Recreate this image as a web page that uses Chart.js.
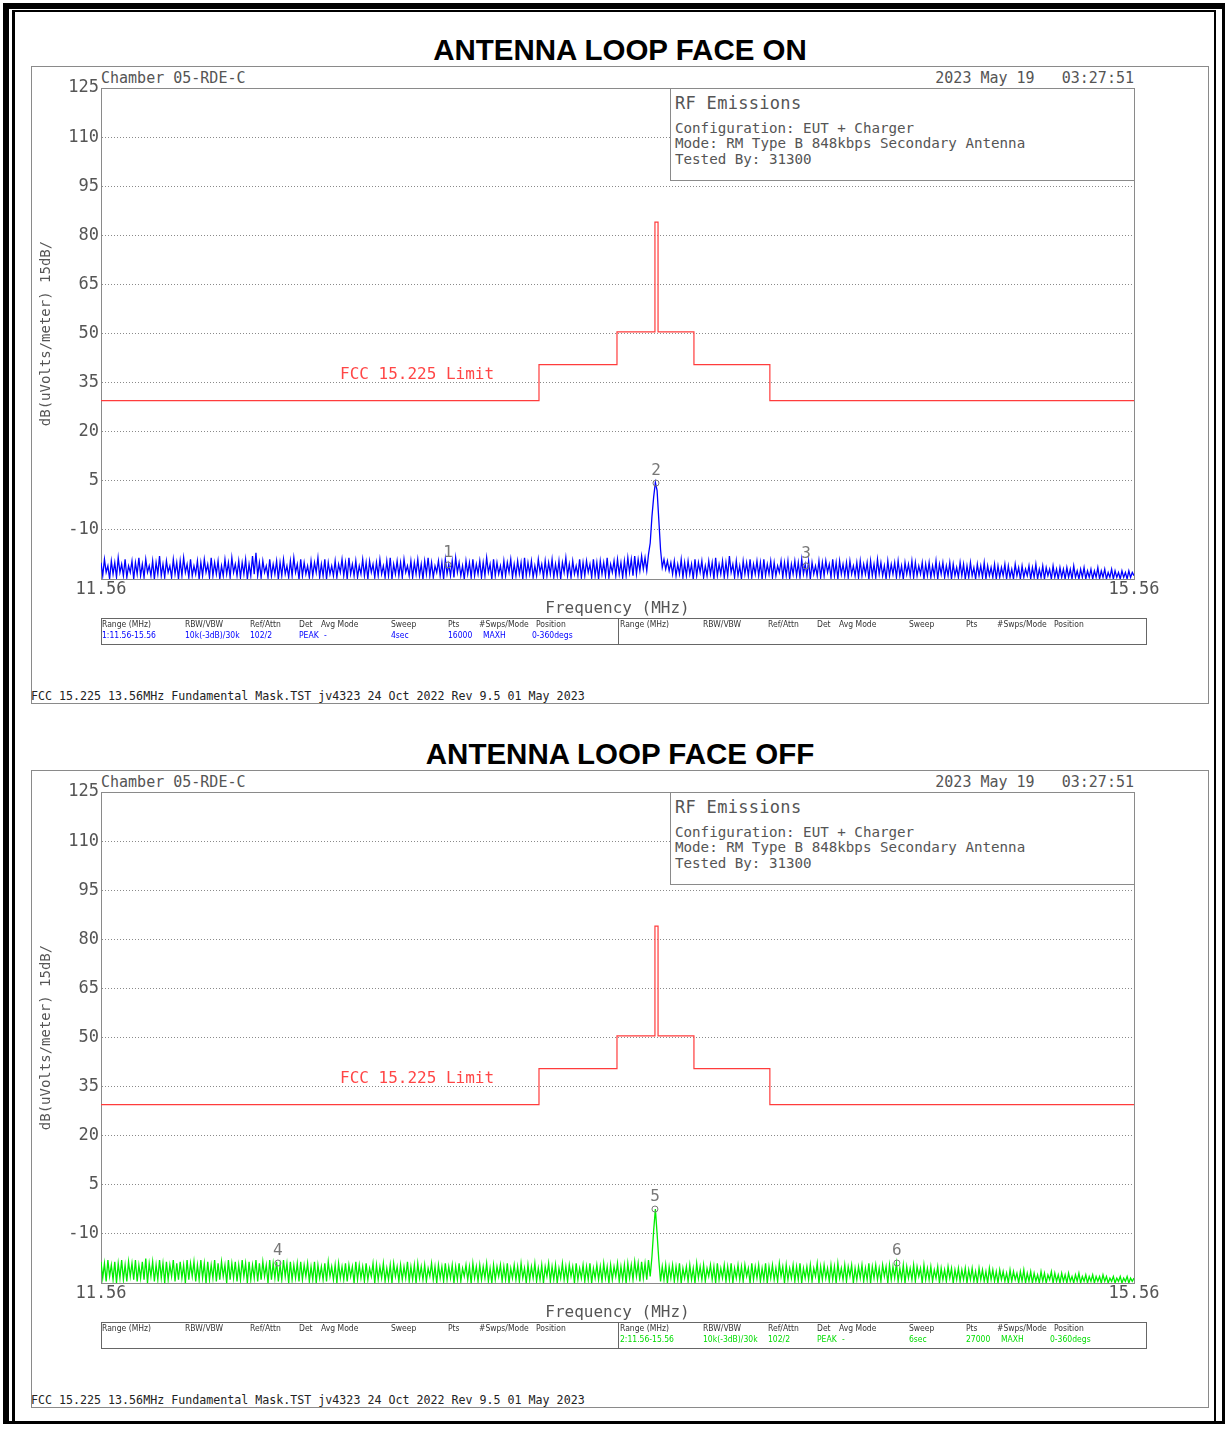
<!DOCTYPE html>
<html><head><meta charset="utf-8">
<script src="https://cdn.jsdelivr.net/npm/chart.js@4.4.1/dist/chart.umd.min.js"></script>
<style>
html,body{margin:0;padding:0;background:#fff;}
body{width:1225px;height:1429px;position:relative;overflow:hidden;font-family:"DejaVu Sans Mono",monospace;color:#555;}
.t{position:absolute;white-space:pre;}
.box{position:absolute;box-sizing:border-box;}
canvas{position:absolute;}
.title{position:absolute;left:0;width:1240px;text-align:center;font-family:"Liberation Sans",Arial,sans-serif;font-weight:bold;font-size:29.5px;color:#000;line-height:34px;height:34px;}
.tbl{font-family:"DejaVu Sans Condensed","Liberation Sans Narrow","Liberation Sans",sans-serif;font-size:8.5px;line-height:10px;height:10px;color:#333;}
</style>
</head><body>
<div class="box" style="left:3px;top:3px;width:1222px;height:1421px;border-left:6px solid #000;border-top:6px solid #000;border-right:3px solid #000;border-bottom:3px solid #000;"></div>
<div class="box" style="left:12px;top:10px;width:1204px;height:1411px;border-left:3px solid #000;border-top:2px solid #000;border-right:2px solid #000;"></div>
<div id="root"></div>
<script>
// ---------- data ----------
const freqStart = 11.56, freqStop = 15.56;
const xTickLabels = [11.56, 15.56];
const yTicks = [-10, 5, 20, 35, 50, 65, 80, 95, 110, 125];
const yMin = -25, yMax = 125;
const limitFreq  = [11.56, 13.256, 13.558, 13.705, 13.717, 13.856, 14.150, 15.56];
const limitLevel = [29.5, 40.5, 50.5, 84, 50.5, 40.5, 29.5, 29.5];

const traceFaceOn = [
-20,-24,-19,-23,-21,-25,-19.5,-23.5,-20,-24.5,-18.5,-23,-20.5,-24,-19,-24.5,-21,-23,-19.5,-25,
-20,-23.5,-18.5,-24,-20.5,-24.5,-19,-23,-21,-24,-19.5,-25,-20,-23.5,-18,-24,-20.5,-24.5,-19.5,-23,
-21,-24.5,-19,-23.5,-20,-25,-19.5,-24,-18.5,-23,-20.5,-24.5,-19,-24,-21,-23.5,-19.5,-25,-20,-24,
-19,-23,-20.5,-24.5,-18.5,-24,-20,-23.5,-19.5,-25,-21,-24,-19,-23.5,-20,-24.5,-18.5,-23,-20.5,-24,
-19.5,-24.5,-20,-23.5,-19,-25,-20.5,-24,-18,-23.5,-17,-24,-20,-24.5,-19.5,-23,-21,-24.5,-19,-24,
-20.5,-23.5,-19.5,-25,-20,-24,-19,-23.5,-21,-24.5,-19.5,-24,-18.5,-23,-20.5,-25,-19,-24,-20,-23.5,
-21,-24.5,-19.5,-24,-20,-23,-18.5,-24.5,-20.5,-24,-19,-25,-20,-23.5,-21,-24,-19.5,-24.5,-20.5,-23,
-19,-24,-20,-25,-18.5,-23.5,-20.5,-24,-19.5,-24.5,-21,-23.5,-19,-24,-20,-25,-19.5,-23,-20.5,-24.5,
-20,-24,-19,-23.5,-21,-24.5,-19.5,-24,-18.5,-25,-20.5,-23.5,-19.5,-24,-20,-24.5,-19,-23,-21,-24,
-19.5,-24.5,-20,-23.5,-19,-24,-20.5,-25,-19.5,-23.5,-18.5,-24,-20,-24.5,-21,-23,-19.5,-24,-20,-25,
-19,-23.5,-20.5,-24,-19.5,-24.5,-18.5,-23,-20,-24,-21,-25,-19.5,-23.5,-20,-24.5,-19,-24,-20.5,-23.5,
-19.5,-24.5,-20,-24,-18.5,-23,-20.5,-25,-19,-24,-20,-23.5,-21,-24.5,-19.5,-24,-20,-23,-19,-24.5,
-20.5,-24,-19.5,-23.5,-20,-25,-18.5,-24,-20,-23.5,-19.5,-24.5,-21,-24,-19,-23,-20.5,-24.5,-19.5,-24,
-20,-23.5,-19,-24.5,-20.5,-24,-19.5,-25,-20,-23,-18.5,-24,-20.5,-24.5,-19.5,-23.5,-21,-24,-19,-24.5,
-20,-24,-19.5,-23,-20.5,-24.5,-19,-24,-20,-25,-19.5,-23.5,-20,-24,-18.5,-24.5,-20.5,-23,-19.5,-24,
-19,-23.5,-20,-24.5,-19.5,-24,-18.5,-23,-19,-24,-18,-23.5,-19,-22.5,-18,-22,-18.5,-22.5,-17.5,-14,
-6,0,4.5,2,-7,-16,-21.5,-19,-22,-19.5,-22.5,-20,-23.5,-19.5,-24,-20.5,-23.5,-19,-24.5,-20,
-24,-19.5,-23.5,-20.5,-25,-19,-24,-20,-23,-19.5,-24.5,-21,-24,-19.5,-23.5,-20,-25,-18.5,-24,-20.5,
-23.5,-19.5,-24.5,-20,-24,-18,-23,-20.5,-24.5,-19.5,-24,-21,-25,-19.5,-23.5,-20,-24,-19,-24.5,-20.5,
-23.5,-19.5,-24,-20,-25,-19,-24,-20.5,-23.5,-19.5,-24.5,-20,-24,-21,-23,-19.5,-24.5,-20,-24,-19.5,
-25,-20.5,-23.5,-19.5,-24,-20,-24.5,-19,-23.5,-20.5,-24,-19.5,-25,-20,-23.5,-21,-24,-19.5,-24.5,-20,
-24,-19.5,-23,-20.5,-24.5,-19,-24,-20,-25,-19.5,-23.5,-20.5,-24,-20,-24.5,-19.5,-23.5,-21,-24,-20,
-24.5,-19.5,-24,-20.5,-23.5,-20,-25,-19.5,-24,-20.5,-24.5,-19,-23.5,-20,-24,-21,-25,-19.5,-24,-20.5,
-23.5,-20,-24.5,-19.5,-24,-21,-25,-20,-23.5,-20.5,-24,-19.5,-24.5,-20,-24,-21,-23.5,-20,-25,-20.5,
-24,-20,-24.5,-21,-24,-19.5,-25,-20.5,-23.5,-20,-24.5,-21,-24,-20,-25,-20.5,-24,-21.5,-24.5,-20,
-24,-20.5,-25,-21,-24.5,-20,-24,-21.5,-25,-20.5,-24,-21,-24.5,-20,-25,-21,-24,-21.5,-24.5,-20.5,
-25,-21,-24.5,-21.5,-24,-20.5,-25,-21,-24.5,-22,-25,-20.5,-24,-21.5,-25,-21,-24.5,-22,-24,-21,
-25,-21.5,-24.5,-20.5,-25,-22,-24.5,-21,-25,-21.5,-24,-22,-25,-21,-24.5,-22,-25,-21.5,-24.5,-22,
-25,-21.5,-24.5,-22,-25,-21,-24.5,-22.5,-25,-22,-24.5,-21.5,-25,-22.5,-24.5,-22,-25,-22.5,-24.5,-21.5,
-25,-22.5,-24.5,-22,-25,-23,-24.5,-22,-25,-22.5,-24.5,-23,-25,-22.5,-24.5,-23,-25,-22.5,-24.5,-23,
-24
];

const traceFaceOff = [
-18.5,-23.5,-19,-24.5,-18,-23,-19.5,-24,-18.5,-25,-19,-23.5,-18,-24,-19.5,-24.5,-18.5,-23,-19,-24,
-18,-24.5,-19.5,-23.5,-18.5,-24,-17.5,-25,-19,-23,-18.5,-24.5,-19.5,-24,-18,-23.5,-19,-25,-18.5,-24,
-19.5,-23,-18,-24.5,-19,-24,-18.5,-23.5,-19.5,-25,-18,-24,-19,-23,-18.5,-24.5,-19.5,-24,-18,-23.5,
-19,-25,-18.5,-24,-19.5,-23.5,-18,-24.5,-19,-24,-18.5,-23,-19.5,-25,-18,-24,-19,-23.5,-18.5,-24.5,
-19.5,-24,-18,-23,-19,-25,-18.5,-24,-19.5,-23.5,-18,-24.5,-19,-24,-18.5,-23,-19.5,-25,-18,-24,
-19,-23.5,-18.5,-24.5,-19.5,-24,-18,-23,-19,-25,-18.5,-24,-19.5,-23.5,-19,-24.5,-18.5,-24,-19.5,-23,
-19,-24.5,-20,-24,-18.5,-25,-19.5,-23.5,-20,-24,-19,-24.5,-18.5,-23,-20,-24,-19.5,-25,-19,-23.5,
-20,-24,-19,-24.5,-19.5,-23,-20,-25,-18.5,-24,-19.5,-23.5,-20,-24.5,-19,-24,-20.5,-23,-19,-25,
-19.5,-24,-20,-23.5,-19,-24.5,-20.5,-24,-19.5,-25,-19,-23,-20,-24.5,-19.5,-24,-20,-23.5,-18.5,-24.5,
-20,-24,-19.5,-25,-19,-23.5,-20,-24,-19.5,-24.5,-20.5,-23,-19,-24,-20,-25,-19.5,-23.5,-20,-24.5,
-19,-24,-20,-23.5,-19.5,-25,-20,-24,-19,-24.5,-20.5,-23,-19.5,-24,-20,-25,-19,-23.5,-20,-24.5,
-19.5,-24,-20,-23.5,-19,-24.5,-20.5,-25,-19.5,-24,-20,-23,-19.5,-24.5,-20,-24,-19,-25,-20.5,-23.5,
-19.5,-24,-20,-24.5,-19,-23.5,-20.5,-25,-19.5,-24,-20,-23.5,-19,-24.5,-20.5,-24,-19.5,-25,-20,-23,
-19,-24.5,-20,-24,-19.5,-25,-20.5,-23.5,-19,-24,-20,-24.5,-19.5,-23,-20,-25,-19,-24,-20.5,-23.5,
-19.5,-24.5,-20,-24,-19,-25,-20.5,-23.5,-19.5,-24,-20,-24.5,-19,-23.5,-20,-25,-19.5,-24,-20,-23,
-19,-24.5,-20,-24,-19.5,-25,-19,-23.5,-19.5,-24,-18.5,-23,-19,-24.5,-18.5,-23.5,-19,-24,-18,-23,
-17,-9,-2.4,-10,-18,-24.5,-20,-24,-19.5,-25,-20,-23.5,-19.5,-24.5,-20,-24,-19,-25,-20.5,-23.5,
-20,-24.5,-19.5,-24,-20.5,-25,-19,-23.5,-20,-24,-19.5,-24.5,-20.5,-23,-19.5,-24,-20,-25,-19,-24,
-20.5,-23.5,-19.5,-24.5,-20,-24,-19,-25,-20.5,-23.5,-19.5,-24,-20,-24.5,-19.5,-23,-20.5,-25,-19,-24,
-20,-23.5,-19.5,-24.5,-20.5,-24,-19,-25,-20,-23.5,-19.5,-24,-20.5,-24.5,-19,-23,-20,-25,-19.5,-24,
-20.5,-23.5,-19.5,-24.5,-20,-24,-19,-25,-20.5,-23.5,-20,-24,-19.5,-24.5,-20.5,-23,-19,-25,-20,-24,
-19.5,-23.5,-20.5,-24.5,-19.5,-24,-20,-25,-19,-23.5,-20.5,-24,-19.5,-24.5,-20,-23,-19.5,-25,-20.5,-24,
-20,-23.5,-19.5,-24.5,-20.5,-24,-19,-25,-20,-23.5,-19.5,-24,-20.5,-24.5,-19.5,-23,-20,-25,-19.5,-24,
-20,-23.5,-19,-24.5,-20.5,-24,-19.5,-25,-20,-23.5,-20.5,-24,-19.5,-24.5,-20,-23,-20.5,-25,-19.5,-24,
-20.5,-24,-20,-24.5,-21,-23.5,-20,-25,-20.5,-24,-21,-24.5,-20,-23.5,-20.5,-25,-21,-24,-20.5,-24.5,
-21,-24,-20.5,-25,-21,-24,-20.5,-24.5,-21.5,-25,-20.5,-24,-21,-24.5,-21.5,-25,-20.5,-24,-21,-24.5,
-21.5,-25,-21,-24,-21.5,-24.5,-22,-25,-21,-24.5,-21.5,-24,-22,-25,-21.5,-24.5,-21,-25,-22,-24.5,
-21.5,-25,-22,-24.5,-22.5,-25,-21.5,-24.5,-22,-25,-22.5,-24,-21.5,-25,-22,-24.5,-22.5,-25,-22,-24.5,
-22.5,-25,-22,-24.5,-23,-25,-22.5,-24.5,-22,-25,-23,-24.5,-22.5,-25,-23,-24.5,-22.5,-25,-23,-24.5,
-23,-25,-22.5,-24.5,-23,-25,-23.5,-24.5,-23,-25,-23.5,-24.5,-23,-25,-23.5,-24.5,-23,-25,-23.5,-24.5,
-23.5
];

const markerOnId = ['1', '2', '3'];
const markerOnFreq = [12.904, 13.709, 14.290];
const markerOnLevel = [-20.7, 4.3, -21.0];
const markerOffId = ['4', '5', '6'];
const markerOffFreq = [12.245, 13.705, 14.642];
const markerOffLevel = [-18.9, -2.4, -18.9];

const titles = ['ANTENNA LOOP FACE ON', 'ANTENNA LOOP FACE OFF'];
const headerLeft = 'Chamber 05-RDE-C';
const headerRight = '2023 May 19   03:27:51';
const infoTitle = 'RF Emissions';
const infoLines = ['Configuration: EUT + Charger', 'Mode: RM Type B 848kbps Secondary Antenna', 'Tested By: 31300'];
const limitName = 'FCC 15.225 Limit';
const xTitle = 'Frequency (MHz)';
const yTitle = 'dB(uVolts/meter) 15dB/';
const footerText = 'FCC 15.225 13.56MHz Fundamental Mask.TST jv4323 24 Oct 2022 Rev 9.5 01 May 2023';
const tableHeader = ['Range (MHz)', 'RBW/VBW', 'Ref/Attn', 'Det', 'Avg Mode', 'Sweep', 'Pts', '#Swps/Mode', 'Position'];
const tableOnValues = ['1:11.56-15.56', '10k(-3dB)/30k', '102/2', 'PEAK', '-', '4sec', '16000', 'MAXH', '0-360degs'];
const tableOffValues = ['2:11.56-15.56', '10k(-3dB)/30k', '102/2', 'PEAK', '-', '6sec', '27000', 'MAXH', '0-360degs'];

// ---------- layout ----------
const headCols = [1, 84, 149, 198, 220, 290, 347, 378, 435];
const valCols  = [1, 84, 149, 198, 223, 290, 347, 382, 431];
const root = document.getElementById('root');
function el(cls, style, text) {
  const d = document.createElement('div');
  d.className = cls; d.setAttribute('style', style);
  if (text !== undefined) d.textContent = text;
  root.appendChild(d); return d;
}
function txt(left, cy, text, size, color, extra) {
  const lh = Math.round(size * 1.3);
  return el('t', `left:${left}px;top:${cy - lh / 2}px;line-height:${lh}px;height:${lh}px;font-size:${size}px;color:${color};${extra || ''}`, text);
}

const framePlugin = {
  id: 'frame',
  beforeDatasetsDraw(chart) {
    const a = chart.chartArea, c = chart.ctx;
    c.save(); c.strokeStyle = '#8a8a8a'; c.lineWidth = 1;
    c.strokeRect(Math.round(a.left) + 0.5, Math.round(a.top) + 0.5, Math.round(a.right - a.left), Math.round(a.bottom - a.top));
    c.restore();
  }
};
const markerLabelPlugin = {
  id: 'mlabels',
  afterDatasetsDraw(chart) {
    const ds = chart.data.datasets[2];
    const meta = chart.getDatasetMeta(2);
    const c = chart.ctx;
    c.save();
    c.font = '16px "DejaVu Sans Mono"'; c.fillStyle = '#777';
    c.textAlign = 'center'; c.textBaseline = 'middle';
    meta.data.forEach((p, i) => c.fillText(ds.markerLabels[i], p.x, p.y - 12));
    c.restore();
  }
};

function panel(idx, dy, trace, color, valColor, mId, mFreq, mLevel, tableVals, valHalf) {
  el('title', `top:${33 + dy}px;`, titles[idx]);
  el('box', `left:31px;top:${66 + dy}px;width:1178px;height:638px;border:1px solid #8a8a8a;`);
  txt(101, 78 + dy, headerLeft, 15, '#555');
  el('t', `right:91px;top:${68 + dy}px;line-height:20px;height:20px;font-size:15px;color:#555;`, headerRight);

  const cv = document.createElement('canvas');
  cv.width = 1177; cv.height = 560;
  cv.style.left = '31px'; cv.style.top = (66 + dy) + 'px';
  cv.style.width = '1177px'; cv.style.height = '560px';
  root.appendChild(cv);

  // info box (above canvas)
  el('box', `left:670px;top:${88 + dy}px;width:465px;height:93px;border:1px solid #8a8a8a;background:#fff;`);
  txt(675, 103 + dy, infoTitle, 17, '#555', 'letter-spacing:0.3px;');
  infoLines.forEach((s, i) => txt(675, [128, 143, 159][i] + dy, s, 14.2, '#555'));
  txt(340, 373 + dy, limitName, 16, 'rgb(255,70,70)');

  // table
  el('box', `left:101px;top:${618 + dy}px;width:1046px;height:27px;border:1px solid #666;`);
  el('box', `left:618px;top:${618 + dy}px;width:1px;height:27px;background:#666;`);
  [101, 619].forEach(x0 => tableHeader.forEach((h, i) => el('t tbl', `left:${x0 + headCols[i]}px;top:${619 + dy}px;`, h)));
  const vx0 = valHalf === 0 ? 101 : 619;
  tableVals.forEach((v, i) => el('t tbl', `left:${vx0 + valCols[i]}px;top:${630 + dy}px;color:${valColor};`, v));

  txt(31, 696 + dy, footerText, 11.65, '#222');

  const step = (freqStop - freqStart) / (trace.length - 1);
  const font = { family: 'DejaVu Sans Mono', size: 17 };
  new Chart(cv, {
    type: 'line',
    data: {
      datasets: [
        { data: trace.map((v, i) => ({ x: freqStart + i * step, y: v })), borderColor: color, borderWidth: 1.3, pointRadius: 0, tension: 0, order: 3 },
        { data: limitFreq.map((f, i) => ({ x: f, y: limitLevel[i] })), borderColor: 'rgb(255,60,60)', borderWidth: 1.2, pointRadius: 0, stepped: 'before', order: 2 },
        { data: mFreq.map((f, i) => ({ x: f, y: mLevel[i] })), showLine: false, pointRadius: 3, pointStyle: 'circle',
          pointBorderColor: '#777', pointBackgroundColor: 'rgba(0,0,0,0)', pointBorderWidth: 1, order: 1, markerLabels: mId }
      ]
    },
    options: {
      responsive: false, animation: false, devicePixelRatio: 1, events: [],
      layout: { padding: { top: 22, right: 74, left: 0, bottom: 0 } },
      plugins: { legend: { display: false }, tooltip: { enabled: false } },
      scales: {
        x: {
          type: 'linear', min: freqStart, max: freqStop,
          afterBuildTicks: s => { s.ticks = xTickLabels.map(v => ({ value: v })); },
          afterFit: s => { s.height = 47; },
          ticks: { callback: v => Number(v).toFixed(2), font: font, color: '#555', padding: 0, maxRotation: 0, autoSkip: false },
          grid: { display: false, drawTicks: false },
          border: { display: true, color: '#8a8a8a' },
          title: { display: true, text: xTitle, font: { family: 'DejaVu Sans Mono', size: 16 }, color: '#555', padding: { top: 0, bottom: 8 } }
        },
        y: {
          min: yMin, max: yMax,
          afterBuildTicks: s => { s.ticks = yTicks.map(v => ({ value: v })); },
          afterFit: s => { s.width = 70; },
          ticks: { font: font, color: '#555', padding: 2, autoSkip: false },
          grid: { color: c => (c.tick && c.tick.value === yMax) ? 'rgba(0,0,0,0)' : '#8a8a8a', drawTicks: false, lineWidth: 1 },
          border: { display: true, color: '#8a8a8a', dash: [1, 2] },
          title: { display: true, text: yTitle, font: { family: 'DejaVu Sans Mono', size: 14 }, color: '#555', padding: { top: 7, bottom: 0 } }
        }
      }
    },
    plugins: [framePlugin, markerLabelPlugin]
  });
}

panel(0, 0, traceFaceOn, '#0000ff', '#0000ff', markerOnId, markerOnFreq, markerOnLevel, tableOnValues, 0);
panel(1, 704, traceFaceOff, '#00ee00', '#00dd00', markerOffId, markerOffFreq, markerOffLevel, tableOffValues, 1);
</script>
</body></html>
